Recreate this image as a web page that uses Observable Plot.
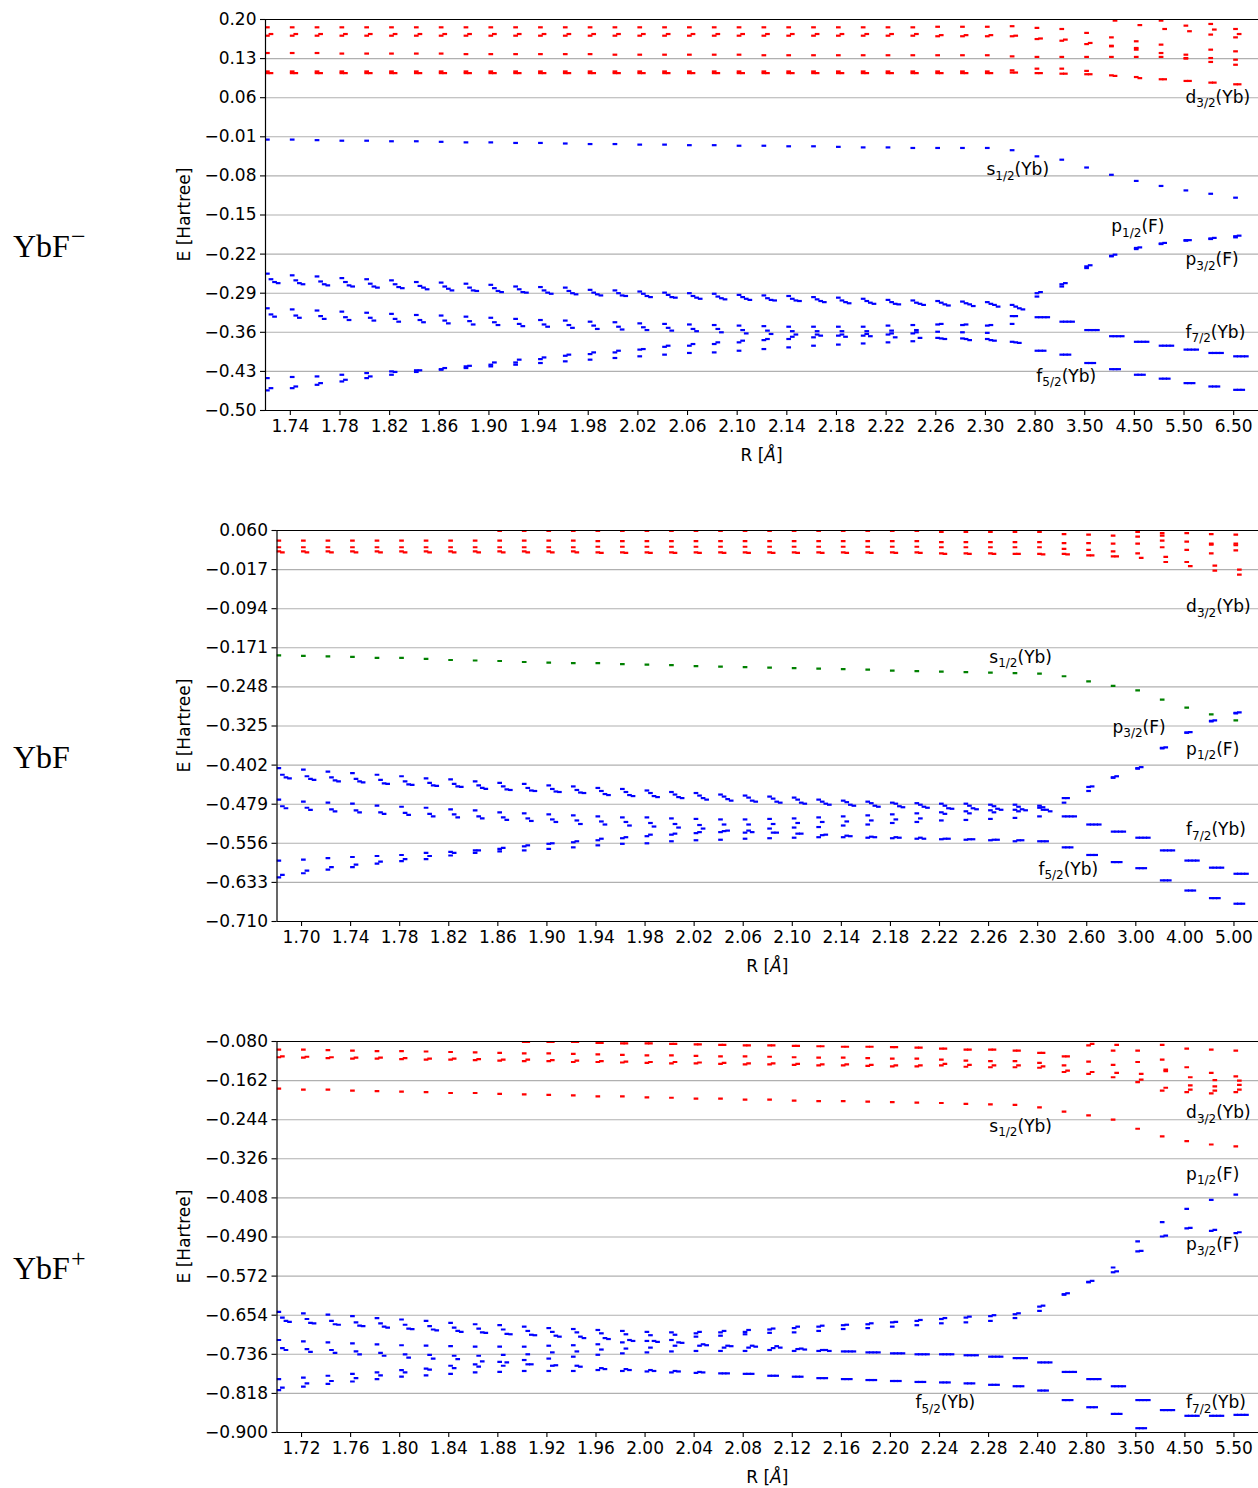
<!DOCTYPE html>
<html>
<head>
<meta charset="utf-8">
<script src="https://cdn.jsdelivr.net/npm/d3@7"></script>
<script src="https://cdn.jsdelivr.net/npm/@observablehq/plot@0.6"></script>
<style>
  html, body { margin: 0; padding: 0; background: white; overflow: hidden; }
  #chart svg { display: block; }
</style>
</head>
<body>
<div id="chart"></div>
<script>
// ---------------- R values (categorical x positions) ----------------
const R_anion = ["1.72","1.74","1.76","1.78","1.80","1.82","1.84","1.86","1.88","1.90","1.92","1.94","1.96","1.98","2.00","2.02","2.04","2.06","2.08","2.10","2.12","2.14","2.16","2.18","2.20","2.22","2.24","2.26","2.28","2.30","2.40","2.80","3.00","3.50","4.00","4.50","5.00","5.50","6.00","6.50"];
const R_neutral = ["1.68","1.70","1.72","1.74","1.76","1.78","1.80","1.82","1.84","1.86","1.88","1.90","1.92","1.94","1.96","1.98","2.00","2.02","2.04","2.06","2.08","2.10","2.12","2.14","2.16","2.18","2.20","2.22","2.24","2.26","2.28","2.30","2.40","2.60","2.80","3.00","3.50","4.00","4.50","5.00"];
const R_cation = ["1.70","1.72","1.74","1.76","1.78","1.80","1.82","1.84","1.86","1.88","1.90","1.92","1.94","1.96","1.98","2.00","2.02","2.04","2.06","2.08","2.10","2.12","2.14","2.16","2.18","2.20","2.22","2.24","2.26","2.28","2.30","2.40","2.60","2.80","3.00","3.50","4.00","4.50","5.00","5.50"];

// ---------------- YbF- orbital energies (Hartree) ----------------
const anion_s  = [-0.015,-0.015,-0.016,-0.017,-0.017,-0.018,-0.018,-0.019,-0.020,-0.020,-0.021,-0.021,-0.022,-0.023,-0.023,-0.024,-0.024,-0.025,-0.025,-0.026,-0.026,-0.027,-0.027,-0.028,-0.029,-0.029,-0.030,-0.030,-0.030,-0.030,-0.034,-0.045,-0.051,-0.065,-0.078,-0.089,-0.098,-0.106,-0.112,-0.119];
const anion_d1 = [0.186,0.186,0.186,0.186,0.186,0.186,0.186,0.186,0.186,0.186,0.186,0.186,0.186,0.186,0.186,0.186,0.186,0.186,0.186,0.186,0.186,0.186,0.186,0.186,0.186,0.186,0.186,0.187,0.187,0.187,0.188,0.185,0.183,0.176,0.168,0.161,0.155,0.137,0.146,0.143];
const anion_d2 = [0.171,0.171,0.171,0.171,0.171,0.171,0.171,0.171,0.171,0.171,0.171,0.171,0.171,0.171,0.171,0.171,0.171,0.171,0.171,0.171,0.171,0.171,0.171,0.171,0.171,0.171,0.171,0.170,0.170,0.170,0.170,0.165,0.162,0.156,0.152,0.146,0.140,0.131,0.124,0.119];
const anion_d3 = [0.174,0.174,0.174,0.174,0.174,0.174,0.174,0.174,0.174,0.174,0.174,0.174,0.174,0.174,0.174,0.174,0.174,0.174,0.174,0.174,0.174,0.174,0.174,0.174,0.174,0.174,0.174,0.172,0.172,0.172,0.171,0.166,0.164,0.158,0.198,0.190,0.183,0.179,0.182,0.174];
const anion_d4 = [0.140,0.140,0.140,0.139,0.139,0.139,0.139,0.139,0.138,0.138,0.138,0.138,0.138,0.138,0.137,0.137,0.137,0.137,0.137,0.137,0.136,0.136,0.136,0.136,0.136,0.136,0.136,0.136,0.136,0.136,0.134,0.133,0.133,0.133,0.133,0.133,0.133,0.130,0.131,0.128];
const anion_d5 = [0.107,0.107,0.107,0.107,0.107,0.107,0.107,0.107,0.107,0.107,0.107,0.107,0.107,0.107,0.107,0.107,0.107,0.107,0.107,0.107,0.107,0.107,0.107,0.107,0.107,0.107,0.107,0.107,0.107,0.107,0.109,0.112,0.112,0.108,0.153,0.149,0.198,0.189,0.192,0.183];
const anion_d6 = [0.104,0.104,0.104,0.104,0.104,0.104,0.104,0.104,0.104,0.104,0.104,0.104,0.104,0.104,0.104,0.104,0.104,0.104,0.104,0.104,0.104,0.104,0.104,0.104,0.104,0.104,0.104,0.104,0.104,0.104,0.105,0.104,0.103,0.102,0.100,0.097,0.093,0.090,0.087,0.084];
const anion_d7 = [0.104,0.104,0.104,0.104,0.104,0.104,0.104,0.104,0.104,0.104,0.104,0.104,0.104,0.104,0.104,0.104,0.104,0.104,0.104,0.104,0.104,0.104,0.104,0.104,0.104,0.104,0.104,0.104,0.104,0.104,0.105,0.104,0.103,0.102,0.099,0.095,0.093,0.090,0.087,0.084];
const anion_d8 = [null,null,null,null,null,null,null,null,null,null,null,null,null,null,null,null,null,null,null,null,null,null,null,null,null,null,null,null,null,null,null,null,null,null,null,null,null,null,0.173,0.168];
const anion_a0 = [-0.255,-0.258,-0.260,-0.263,-0.265,-0.267,-0.270,-0.271,-0.273,-0.275,-0.278,-0.279,-0.280,-0.284,-0.285,-0.287,-0.289,-0.290,-0.291,-0.293,-0.294,-0.295,-0.297,-0.298,-0.300,-0.302,-0.303,-0.304,-0.305,-0.306,-0.311,-0.333,-0.341,-0.356,-0.367,-0.377,-0.384,-0.391,-0.397,-0.403];
const anion_a1 = [-0.265,-0.267,-0.269,-0.270,-0.273,-0.274,-0.277,-0.278,-0.280,-0.281,-0.283,-0.285,-0.286,-0.289,-0.290,-0.291,-0.293,-0.295,-0.296,-0.297,-0.299,-0.300,-0.301,-0.303,-0.304,-0.306,-0.307,-0.307,-0.308,-0.309,-0.314,-0.333,-0.341,-0.356,-0.367,-0.377,-0.384,-0.391,-0.397,-0.403];
const anion_a2 = [-0.270,-0.272,-0.274,-0.276,-0.278,-0.279,-0.280,-0.282,-0.285,-0.286,-0.288,-0.289,-0.290,-0.292,-0.294,-0.295,-0.297,-0.298,-0.299,-0.300,-0.302,-0.303,-0.304,-0.306,-0.307,-0.309,-0.309,-0.310,-0.310,-0.311,-0.317,-0.333,-0.341,-0.356,-0.367,-0.377,-0.384,-0.391,-0.397,-0.403];
const anion_a3 = [-0.272,-0.274,-0.276,-0.278,-0.280,-0.281,-0.283,-0.285,-0.286,-0.288,-0.289,-0.291,-0.292,-0.294,-0.295,-0.297,-0.298,-0.300,-0.301,-0.302,-0.303,-0.304,-0.306,-0.308,-0.309,-0.310,-0.311,-0.312,-0.313,-0.314,-0.319,-0.333,-0.341,-0.356,-0.367,-0.377,-0.384,-0.391,-0.397,-0.403];
const anion_b0 = [-0.317,-0.319,-0.321,-0.323,-0.325,-0.327,-0.329,-0.330,-0.332,-0.334,-0.336,-0.338,-0.339,-0.341,-0.342,-0.344,-0.345,-0.346,-0.347,-0.348,-0.349,-0.350,-0.350,-0.350,-0.350,-0.348,-0.347,-0.370,-0.371,-0.372,-0.377,-0.393,-0.400,-0.415,-0.426,-0.436,-0.443,-0.451,-0.457,-0.463];
const anion_b1 = [-0.328,-0.330,-0.331,-0.333,-0.334,-0.336,-0.338,-0.339,-0.340,-0.342,-0.345,-0.346,-0.347,-0.348,-0.350,-0.351,-0.352,-0.354,-0.354,-0.356,-0.357,-0.358,-0.358,-0.358,-0.358,-0.357,-0.356,-0.371,-0.372,-0.374,-0.378,-0.393,-0.400,-0.415,-0.426,-0.436,-0.443,-0.451,-0.457,-0.463];
const anion_b2 = [-0.332,-0.334,-0.336,-0.338,-0.339,-0.341,-0.342,-0.344,-0.346,-0.347,-0.349,-0.350,-0.352,-0.354,-0.355,-0.356,-0.357,-0.358,-0.360,-0.362,-0.363,-0.364,-0.366,-0.368,-0.367,-0.369,-0.370,-0.372,-0.374,-0.375,-0.379,-0.393,-0.400,-0.415,-0.426,-0.436,-0.443,-0.451,-0.457,-0.463];
const anion_c0 = [-0.442,-0.440,-0.439,-0.436,-0.433,-0.430,-0.428,-0.426,-0.421,-0.418,-0.414,-0.408,-0.402,-0.399,-0.396,-0.391,-0.386,-0.384,-0.381,-0.378,-0.374,-0.372,-0.369,-0.366,-0.366,-0.364,-0.362,-0.346,-0.347,-0.348,-0.331,-0.290,-0.274,-0.242,-0.223,-0.209,-0.201,-0.195,-0.192,-0.188];
const anion_c1 = [-0.460,-0.457,-0.451,-0.445,-0.439,-0.431,-0.428,-0.424,-0.420,-0.414,-0.409,-0.405,-0.400,-0.396,-0.393,-0.390,-0.384,-0.381,-0.378,-0.375,-0.372,-0.368,-0.364,-0.364,-0.363,-0.362,-0.360,-0.345,-0.346,-0.347,-0.331,-0.288,-0.272,-0.240,-0.221,-0.208,-0.200,-0.195,-0.191,-0.187];
const anion_c2 = [-0.464,-0.460,-0.454,-0.448,-0.442,-0.436,-0.431,-0.427,-0.424,-0.421,-0.418,-0.415,-0.412,-0.409,-0.406,-0.403,-0.400,-0.397,-0.396,-0.393,-0.390,-0.387,-0.384,-0.382,-0.380,-0.378,-0.376,-0.359,-0.360,-0.361,-0.345,-0.296,-0.278,-0.245,-0.224,-0.211,-0.202,-0.196,-0.193,-0.190];

// ---------------- YbF orbital energies (Hartree) ----------------
const neutral_s  = [-0.186,-0.187,-0.188,-0.189,-0.191,-0.191,-0.193,-0.195,-0.196,-0.197,-0.199,-0.200,-0.201,-0.201,-0.203,-0.204,-0.205,-0.207,-0.208,-0.209,-0.210,-0.211,-0.212,-0.213,-0.214,-0.216,-0.217,-0.218,-0.219,-0.220,-0.221,-0.222,-0.227,-0.237,-0.246,-0.255,-0.273,-0.289,-0.302,-0.314];
const neutral_d0 = [0.062,0.062,0.062,0.062,0.062,0.062,0.062,0.062,0.062,0.059,0.059,0.059,0.059,0.059,0.059,0.059,0.059,0.059,0.059,0.059,0.059,0.059,0.059,0.059,0.059,0.059,0.059,0.057,0.057,0.057,0.057,0.057,0.053,0.052,0.050,0.057,0.055,0.055,0.053,0.052];
const neutral_d1 = [0.040,0.040,0.040,0.040,0.040,0.040,0.040,0.040,0.040,0.040,0.040,0.040,0.040,0.039,0.039,0.039,0.039,0.039,0.039,0.039,0.039,0.039,0.039,0.039,0.039,0.039,0.039,0.037,0.037,0.037,0.037,0.037,0.035,0.035,0.034,0.048,0.050,0.038,0.034,0.034];
const neutral_d2 = [0.027,0.027,0.027,0.027,0.027,0.027,0.027,0.027,0.027,0.027,0.027,0.027,0.027,0.028,0.028,0.028,0.028,0.028,0.028,0.028,0.028,0.028,0.028,0.028,0.028,0.028,0.028,0.027,0.027,0.027,0.027,0.027,0.024,0.022,0.019,0.034,0.040,0.022,0.032,0.031];
const neutral_d3 = [0.019,0.019,0.019,0.019,0.019,0.019,0.019,0.019,0.019,0.019,0.019,0.019,0.019,0.017,0.017,0.017,0.017,0.017,0.017,0.017,0.017,0.017,0.017,0.017,0.017,0.017,0.017,0.015,0.015,0.015,0.014,0.014,0.014,0.011,0.009,0.015,0.027,-0.002,0.015,0.021];
const neutral_d4 = [0.017,0.017,0.017,0.017,0.017,0.017,0.017,0.017,0.017,0.017,0.017,0.017,0.017,0.016,0.016,0.016,0.016,0.016,0.016,0.016,0.016,0.016,0.016,0.016,0.016,0.016,0.016,0.014,0.014,0.014,0.014,0.013,0.013,0.011,0.009,0.006,0.008,-0.010,-0.009,-0.017];
const neutral_d5 = [null,null,null,null,null,null,null,null,null,null,null,null,null,null,null,null,null,null,null,null,null,null,null,null,null,null,null,null,null,null,null,null,null,null,null,null,-0.002,null,-0.019,-0.027];
const neutral_a0 = [-0.408,-0.411,-0.415,-0.418,-0.421,-0.424,-0.428,-0.430,-0.434,-0.437,-0.439,-0.442,-0.444,-0.447,-0.449,-0.452,-0.455,-0.457,-0.460,-0.462,-0.464,-0.466,-0.470,-0.472,-0.474,-0.476,-0.477,-0.478,-0.478,-0.480,-0.480,-0.482,-0.503,-0.519,-0.533,-0.545,-0.570,-0.590,-0.604,-0.616];
const neutral_a1 = [-0.421,-0.424,-0.426,-0.429,-0.431,-0.434,-0.437,-0.439,-0.442,-0.444,-0.447,-0.449,-0.451,-0.453,-0.455,-0.457,-0.460,-0.462,-0.464,-0.466,-0.468,-0.470,-0.474,-0.475,-0.477,-0.478,-0.480,-0.482,-0.482,-0.483,-0.484,-0.485,-0.503,-0.519,-0.533,-0.545,-0.570,-0.590,-0.604,-0.616];
const neutral_a2 = [-0.426,-0.429,-0.432,-0.434,-0.438,-0.440,-0.442,-0.444,-0.447,-0.450,-0.452,-0.454,-0.456,-0.459,-0.461,-0.463,-0.465,-0.467,-0.469,-0.472,-0.474,-0.476,-0.478,-0.480,-0.482,-0.483,-0.484,-0.487,-0.487,-0.488,-0.489,-0.490,-0.503,-0.519,-0.533,-0.545,-0.570,-0.590,-0.604,-0.616];
const neutral_a3 = [-0.428,-0.431,-0.434,-0.436,-0.439,-0.441,-0.443,-0.445,-0.449,-0.451,-0.453,-0.455,-0.457,-0.461,-0.463,-0.465,-0.467,-0.470,-0.472,-0.474,-0.476,-0.478,-0.480,-0.482,-0.484,-0.485,-0.486,-0.488,-0.489,-0.490,-0.491,-0.493,-0.503,-0.519,-0.533,-0.545,-0.570,-0.590,-0.604,-0.616];
const neutral_b0 = [-0.470,-0.474,-0.476,-0.478,-0.482,-0.484,-0.486,-0.489,-0.491,-0.495,-0.497,-0.499,-0.501,-0.503,-0.505,-0.505,-0.507,-0.508,-0.509,-0.509,-0.508,-0.507,-0.505,-0.503,-0.501,-0.499,-0.497,-0.495,-0.493,-0.491,-0.490,-0.486,-0.467,-0.445,-0.426,-0.408,-0.368,-0.338,-0.315,-0.299];
const neutral_b1 = [-0.483,-0.486,-0.489,-0.491,-0.495,-0.496,-0.498,-0.499,-0.503,-0.505,-0.507,-0.509,-0.511,-0.513,-0.514,-0.516,-0.518,-0.520,-0.519,-0.519,-0.518,-0.516,-0.514,-0.513,-0.511,-0.509,-0.507,-0.498,-0.497,-0.495,-0.493,-0.490,-0.467,-0.444,-0.424,-0.406,-0.367,-0.337,-0.314,-0.298];
const neutral_b2 = [-0.487,-0.490,-0.493,-0.495,-0.498,-0.500,-0.503,-0.505,-0.507,-0.510,-0.512,-0.514,-0.518,-0.519,-0.521,-0.523,-0.525,-0.527,-0.531,-0.534,-0.535,-0.537,-0.539,-0.542,-0.544,-0.545,-0.547,-0.547,-0.548,-0.549,-0.550,-0.552,-0.564,-0.579,-0.593,-0.605,-0.629,-0.649,-0.664,-0.675];
const neutral_c0 = [-0.590,-0.588,-0.585,-0.583,-0.581,-0.579,-0.575,-0.573,-0.570,-0.567,-0.562,-0.557,-0.554,-0.550,-0.546,-0.542,-0.539,-0.536,-0.534,-0.535,-0.527,-0.525,-0.524,-0.521,-0.519,-0.516,-0.514,-0.511,-0.510,-0.508,-0.506,-0.503,-0.476,-0.453,-0.427,-0.409,-0.369,-0.338,-0.316,-0.300];
const neutral_c1 = [-0.618,-0.610,-0.603,-0.598,-0.592,-0.587,-0.581,-0.575,-0.570,-0.565,-0.560,-0.556,-0.552,-0.547,-0.544,-0.539,-0.537,-0.534,-0.532,-0.531,-0.535,-0.537,-0.540,-0.541,-0.543,-0.544,-0.545,-0.547,-0.548,-0.549,-0.550,-0.552,-0.564,-0.579,-0.593,-0.605,-0.629,-0.649,-0.664,-0.675];
const neutral_c2 = [-0.623,-0.615,-0.608,-0.603,-0.596,-0.591,-0.587,-0.580,-0.575,-0.572,-0.570,-0.567,-0.564,-0.560,-0.557,-0.556,-0.552,-0.550,-0.549,-0.547,-0.546,-0.545,-0.544,-0.544,-0.545,-0.546,-0.547,-0.548,-0.549,-0.550,-0.552,-0.552,-0.564,-0.579,-0.593,-0.605,-0.629,-0.649,-0.664,-0.675];

// ---------------- YbF+ orbital energies (Hartree) ----------------
const cation_s  = [-0.179,-0.181,-0.181,-0.183,-0.184,-0.185,-0.186,-0.188,-0.188,-0.190,-0.191,-0.192,-0.193,-0.195,-0.195,-0.197,-0.198,-0.200,-0.200,-0.202,-0.202,-0.204,-0.205,-0.205,-0.206,-0.207,-0.208,-0.209,-0.211,-0.212,-0.213,-0.218,-0.227,-0.235,-0.244,-0.263,-0.279,-0.289,-0.296,-0.300];
const cation_d1 = [-0.097,-0.097,-0.098,-0.099,-0.100,-0.100,-0.101,-0.102,-0.103,-0.104,-0.105,-0.105,-0.106,-0.107,-0.108,-0.109,-0.109,-0.110,-0.111,-0.111,-0.112,-0.113,-0.114,-0.114,-0.115,-0.116,-0.116,-0.118,-0.120,-0.121,-0.121,-0.125,-0.130,-0.122,-0.129,-0.123,-0.118,-0.134,-0.146,-0.153];
const cation_d2 = [-0.113,-0.114,-0.115,-0.116,-0.116,-0.117,-0.118,-0.118,-0.119,-0.120,-0.121,-0.121,-0.123,-0.123,-0.124,-0.125,-0.126,-0.126,-0.127,-0.128,-0.128,-0.129,-0.130,-0.130,-0.131,-0.132,-0.132,-0.130,-0.133,-0.134,-0.134,-0.135,-0.144,-0.148,-0.155,-0.165,-0.183,-0.186,-0.189,-0.186];
const cation_d3 = [-0.111,-0.112,-0.113,-0.114,-0.114,-0.115,-0.116,-0.116,-0.117,-0.118,-0.118,-0.119,-0.120,-0.121,-0.122,-0.123,-0.123,-0.124,-0.125,-0.126,-0.126,-0.127,-0.128,-0.128,-0.129,-0.130,-0.130,-0.127,-0.129,-0.130,-0.130,-0.132,-0.141,-0.144,-0.146,-0.160,-0.177,-0.181,-0.183,-0.181];
const cation_d4 = [-0.078,-0.078,-0.078,-0.078,-0.078,-0.078,-0.078,-0.078,-0.078,-0.078,-0.081,-0.081,-0.081,-0.083,-0.084,-0.084,-0.085,-0.086,-0.087,-0.088,-0.088,-0.089,-0.090,-0.091,-0.091,-0.092,-0.093,-0.095,-0.097,-0.097,-0.099,-0.104,-0.111,-0.088,-0.099,-0.099,-0.087,-0.095,-0.097,-0.099];
const cation_d5 = [-0.078,-0.078,-0.078,-0.078,-0.078,-0.078,-0.078,-0.078,-0.078,-0.078,-0.081,-0.081,-0.081,-0.083,-0.084,-0.084,-0.085,-0.086,-0.087,-0.088,-0.088,-0.089,-0.090,-0.091,-0.091,-0.092,-0.093,-0.095,-0.097,-0.097,-0.099,-0.104,-0.111,-0.085,-0.087,-0.148,-0.139,-0.155,-0.161,-0.162];
const cation_d6 = [null,null,null,null,null,null,null,null,null,null,null,null,null,null,null,null,null,null,null,null,null,null,null,null,null,null,null,null,null,null,null,null,null,null,null,null,-0.142,-0.172,-0.174,-0.171];
const cation_a0 = [-0.647,-0.650,-0.653,-0.656,-0.660,-0.663,-0.666,-0.670,-0.673,-0.675,-0.678,-0.681,-0.683,-0.685,-0.687,-0.689,-0.690,-0.692,-0.690,-0.689,-0.684,-0.681,-0.678,-0.675,-0.673,-0.669,-0.666,-0.662,-0.659,-0.656,-0.652,-0.636,-0.610,-0.584,-0.564,-0.520,-0.489,-0.472,-0.477,-0.482];
const cation_a1 = [-0.659,-0.662,-0.666,-0.669,-0.671,-0.674,-0.677,-0.680,-0.682,-0.684,-0.687,-0.689,-0.690,-0.692,-0.694,-0.696,-0.695,-0.689,-0.687,-0.685,-0.682,-0.678,-0.676,-0.674,-0.671,-0.668,-0.664,-0.660,-0.657,-0.654,-0.650,-0.634,-0.608,-0.582,-0.562,-0.519,-0.487,-0.471,-0.475,-0.480];
const cation_a2 = [-0.666,-0.670,-0.673,-0.676,-0.678,-0.682,-0.684,-0.687,-0.690,-0.693,-0.695,-0.697,-0.699,-0.702,-0.706,-0.708,-0.711,-0.715,-0.718,-0.718,-0.719,-0.724,-0.727,-0.730,-0.732,-0.734,-0.736,-0.736,-0.738,-0.741,-0.744,-0.753,-0.773,-0.788,-0.803,-0.832,-0.853,-0.865,-0.865,-0.863];
const cation_a3 = [-0.668,-0.671,-0.674,-0.677,-0.680,-0.683,-0.686,-0.689,-0.691,-0.694,-0.696,-0.699,-0.702,-0.704,-0.708,-0.710,-0.712,-0.717,-0.719,-0.720,-0.722,-0.726,-0.729,-0.730,-0.732,-0.734,-0.736,-0.736,-0.738,-0.741,-0.744,-0.753,-0.773,-0.788,-0.803,-0.832,-0.853,-0.865,-0.865,-0.863];
const cation_b0 = [-0.706,-0.709,-0.711,-0.713,-0.715,-0.717,-0.718,-0.719,-0.720,-0.720,-0.720,-0.718,-0.717,-0.715,-0.711,-0.708,-0.706,-0.699,-0.697,-0.694,-0.691,-0.690,-0.687,-0.683,-0.681,-0.678,-0.675,-0.671,-0.669,-0.666,-0.660,-0.645,-0.611,-0.585,-0.554,-0.499,-0.459,-0.431,-0.412,-0.401];
const cation_b1 = [-0.723,-0.725,-0.727,-0.730,-0.733,-0.736,-0.737,-0.739,-0.739,-0.737,-0.736,-0.732,-0.730,-0.726,-0.724,-0.722,-0.718,-0.718,-0.722,-0.722,-0.723,-0.725,-0.727,-0.730,-0.732,-0.734,-0.736,-0.736,-0.738,-0.741,-0.744,-0.753,-0.773,-0.788,-0.803,-0.832,-0.853,-0.865,-0.865,-0.863];
const cation_b2 = [-0.727,-0.731,-0.733,-0.736,-0.739,-0.743,-0.745,-0.746,-0.751,-0.753,-0.757,-0.759,-0.762,-0.767,-0.769,-0.771,-0.772,-0.774,-0.776,-0.777,-0.781,-0.783,-0.786,-0.788,-0.790,-0.792,-0.794,-0.795,-0.797,-0.800,-0.803,-0.812,-0.832,-0.847,-0.861,-0.891,null,null,null,null];
const cation_c0 = [-0.788,-0.785,-0.781,-0.777,-0.774,-0.769,-0.766,-0.760,-0.757,-0.752,-0.748,-0.745,-0.741,-0.737,-0.734,-0.732,-0.730,-0.729,-0.729,-0.729,-0.727,-0.729,-0.729,-0.730,-0.732,-0.734,-0.736,-0.736,-0.738,-0.741,-0.744,-0.753,-0.773,-0.788,-0.803,-0.832,-0.853,-0.865,-0.865,-0.863];
const cation_c1 = [-0.806,-0.797,-0.792,-0.786,-0.780,-0.774,-0.768,-0.765,-0.762,-0.760,-0.757,-0.760,-0.760,-0.765,-0.767,-0.769,-0.771,-0.773,-0.776,-0.777,-0.781,-0.783,-0.786,-0.788,-0.790,-0.792,-0.794,-0.795,-0.797,-0.800,-0.803,-0.812,-0.832,-0.847,-0.861,-0.891,null,null,null,null];
const cation_c2 = [-0.811,-0.804,-0.798,-0.793,-0.788,-0.783,-0.780,-0.777,-0.774,-0.773,-0.771,-0.771,-0.771,-0.769,-0.771,-0.772,-0.774,-0.775,-0.776,-0.777,-0.781,-0.783,-0.786,-0.788,-0.790,-0.792,-0.794,-0.795,-0.797,-0.800,-0.803,-0.812,-0.832,-0.847,-0.861,-0.891,null,null,null,null];

// ---------------- axis ticks ----------------
const yTicks_anion   = [0.20,0.13,0.06,-0.01,-0.08,-0.15,-0.22,-0.29,-0.36,-0.43,-0.50];
const yTicks_neutral = [0.060,-0.017,-0.094,-0.171,-0.248,-0.325,-0.402,-0.479,-0.556,-0.633,-0.710];
const yTicks_cation  = [-0.080,-0.162,-0.244,-0.326,-0.408,-0.490,-0.572,-0.654,-0.736,-0.818,-0.900];

// ---------------- annotations ----------------
const labels_anion   = ["d_{3/2}(Yb)","s_{1/2}(Yb)","p_{1/2}(F)","p_{3/2}(F)","f_{7/2}(Yb)","f_{5/2}(Yb)"];
const labelX_anion   = [37.06, 29.04, 34.07, 37.06, 37.06, 31.05];
const labelE_anion   = [0.061, -0.069, -0.171, -0.230, -0.360, -0.439];
const labels_neutral = ["d_{3/2}(Yb)","s_{1/2}(Yb)","p_{3/2}(F)","p_{1/2}(F)","f_{7/2}(Yb)","f_{5/2}(Yb)"];
const labelX_neutral = [37.05, 29.03, 34.05, 37.05, 37.05, 31.03];
const labelE_neutral = [-0.090, -0.190, -0.328, -0.371, -0.529, -0.607];
const labels_cation  = ["d_{3/2}(Yb)","s_{1/2}(Yb)","p_{1/2}(F)","p_{3/2}(F)","f_{5/2}(Yb)","f_{7/2}(Yb)"];
const labelX_cation  = [37.05, 29.03, 37.05, 37.05, 26.02, 37.05];
const labelE_cation  = [-0.229, -0.258, -0.359, -0.506, -0.838, -0.838];

// ---------------- styling ----------------
const RED = "#ff0000", BLUE = "#0000ff", GREEN = "#008000";
const SLOT_STEP = 0.145, DASH = 0.19;

const panels = [
  {
    name: "YbF", sup: "\u2212", R: R_anion, yTicks: yTicks_anion, digits: 2, marginLeft: 265, height: 511,
    labels: labels_anion, lx: labelX_anion, ly: labelE_anion,
    levels: [
      [anion_d1,0,RED],[anion_d2,0,RED],[anion_d3,1,RED],[anion_d4,0,RED],[anion_d5,0,RED],[anion_d6,0,RED],[anion_d7,1,RED],[anion_d8,0,RED],
      [anion_s,0,BLUE],
      [anion_a0,0,BLUE],[anion_a1,1,BLUE],[anion_a2,2,BLUE],[anion_a3,3,BLUE],
      [anion_b0,0,BLUE],[anion_b1,1,BLUE],[anion_b2,2,BLUE],
      [anion_c0,0,BLUE],[anion_c1,1,BLUE],[anion_c2,0,BLUE]
    ]
  },
  {
    name: "YbF", sup: "", R: R_neutral, yTicks: yTicks_neutral, digits: 3, marginLeft: 276.5, height: 511,
    labels: labels_neutral, lx: labelX_neutral, ly: labelE_neutral,
    levels: [
      [neutral_d0,0,RED],[neutral_d1,0,RED],[neutral_d2,0,RED],[neutral_d3,0,RED],[neutral_d4,1,RED],[neutral_d5,1,RED],
      [neutral_s,0,GREEN],
      [neutral_a0,0,BLUE],[neutral_a1,1,BLUE],[neutral_a2,2,BLUE],[neutral_a3,3,BLUE],
      [neutral_b0,0,BLUE],[neutral_b1,1,BLUE],[neutral_b2,2,BLUE],
      [neutral_c0,0,BLUE],[neutral_c1,1,BLUE],[neutral_c2,0,BLUE]
    ]
  },
  {
    name: "YbF", sup: "+", R: R_cation, yTicks: yTicks_cation, digits: 3, marginLeft: 276.5, height: 466,
    labels: labels_cation, lx: labelX_cation, ly: labelE_cation,
    levels: [
      [cation_d1,0,RED],[cation_d2,0,RED],[cation_d3,1,RED],[cation_d4,0,RED],[cation_d5,1,RED],[cation_d6,1,RED],
      [cation_s,0,RED],
      [cation_a0,0,BLUE],[cation_a1,1,BLUE],[cation_a2,2,BLUE],[cation_a3,3,BLUE],
      [cation_b0,0,BLUE],[cation_b1,1,BLUE],[cation_b2,2,BLUE],
      [cation_c0,0,BLUE],[cation_c1,1,BLUE],[cation_c2,0,BLUE]
    ]
  }
];

// sanity check of array lengths
panels.forEach(p => p.levels.forEach(([a], k) => { if (a.length !== 40) throw new Error(p.name + p.sup + " level " + k + " has " + a.length); }));

const ns = "http://www.w3.org/2000/svg";
const fmt = (digits) => (d) => (d < 0 ? "\u2212" : "") + Math.abs(d).toFixed(digits);

for (const p of panels) {
  const dashes = [];
  for (const [vals, slot, color] of p.levels) {
    vals.forEach((v, i) => { if (v != null) dashes.push({i, v, slot, color}); });
  }
  const ann = p.labels.map((t, k) => ({t, x: p.lx[k], y: p.ly[k]}));
  const yDomain = [p.yTicks[p.yTicks.length - 1], p.yTicks[0]];
  const tickIdx = p.R.map((_, i) => i).filter(i => i % 2 === 1);
  const plotH = 391, mTop = 19;
  const svg = Plot.plot({
    width: 1258, height: p.height,
    marginTop: mTop, marginBottom: p.height - mTop - plotH, marginLeft: p.marginLeft, marginRight: 0,
    style: {fontFamily: "DejaVu Sans, sans-serif", fontSize: "17px", background: "white", color: "black"},
    x: {domain: [0, 40], axis: null},
    y: {domain: yDomain, axis: null},
    color: {type: "identity"},
    marks: [
      Plot.gridY(p.yTicks, {stroke: "#b0b0b0", strokeOpacity: 1, strokeWidth: 1.1}),
      Plot.ruleY(dashes, {
        y: "v",
        x1: d => d.i + d.slot * SLOT_STEP,
        x2: d => d.i + d.slot * SLOT_STEP + DASH,
        stroke: "color", strokeWidth: 2.2, clip: true
      }),
      Plot.ruleY([yDomain[1]], {stroke: "black", strokeWidth: 1.2}),
      Plot.ruleY([yDomain[0]], {stroke: "black", strokeWidth: 1.2}),
      Plot.ruleX([0], {stroke: "black", strokeWidth: 1.2}),
      Plot.axisX(tickIdx, {tickFormat: i => p.R[i], tickSize: 5, tickPadding: 4, label: null, strokeWidth: 1.1}),
      Plot.axisY(p.yTicks, {tickFormat: fmt(p.digits), tickSize: 5, tickPadding: 4, label: null, strokeWidth: 1.1}),
      Plot.text(ann, {x: "x", y: "y", text: "t", textAnchor: "start", fontSize: 17, fill: "black"})
    ]
  });

  // subscripts in level labels
  svg.querySelectorAll('g[aria-label="text"] text').forEach(t => {
    const m = t.textContent.match(/^(.)_\{(.+?)\}(.*)$/);
    if (!m) return;
    t.textContent = "";
    const a = document.createElementNS(ns, "tspan"); a.textContent = m[1]; t.appendChild(a);
    const b = document.createElementNS(ns, "tspan"); b.textContent = m[2]; b.setAttribute("dy", "4.5"); b.setAttribute("font-size", "12"); t.appendChild(b);
    const c = document.createElementNS(ns, "tspan"); c.textContent = m[3]; c.setAttribute("dy", "-4.5"); c.setAttribute("font-size", "17"); t.appendChild(c);
  });

  const s = d3.select(svg);
  // molecule name on the left
  const title = s.append("text").attr("x", 13).attr("y", 257).attr("text-anchor", "start")
    .attr("font-family", "Liberation Serif, DejaVu Serif, serif").attr("font-size", 32).attr("fill", "black");
  title.append("tspan").text(p.name);
  if (p.sup) title.append("tspan").attr("dx", 1).attr("dy", -12).attr("font-size", 26).text(p.sup);
  // y label
  const cy = mTop + plotH / 2;
  s.append("text").attr("transform", `translate(190,${cy}) rotate(-90)`)
    .attr("text-anchor", "middle").attr("font-size", 17).attr("fill", "black").text("E [Hartree]");
  // x label
  const cx = (p.marginLeft + 1258) / 2;
  const xl = s.append("text").attr("x", cx).attr("y", mTop + plotH + 51)
    .attr("text-anchor", "middle").attr("font-size", 17).attr("fill", "black");
  xl.append("tspan").text("R [");
  xl.append("tspan").attr("font-style", "italic").text("\u00c5");
  xl.append("tspan").text("]");

  document.getElementById("chart").appendChild(svg);
}
</script>
</body>
</html>
